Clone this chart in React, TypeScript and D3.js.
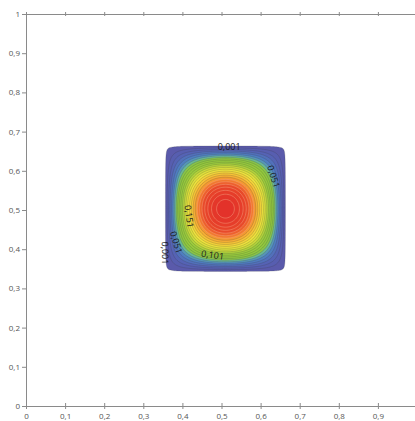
import * as d3 from 'd3';
import React, { useRef, useEffect } from 'react';

// axis ticks
const xTicks = [0, 0.1, 0.2, 0.3, 0.4, 0.5, 0.6, 0.7, 0.8, 0.9];
const yTicks = [0, 0.1, 0.2, 0.3, 0.4, 0.5, 0.6, 0.7, 0.8, 0.9, 1];

// contour levels
const levels = [
  0.001, 0.011, 0.021, 0.031, 0.041, 0.051, 0.061, 0.071, 0.081, 0.091,
  0.101, 0.111, 0.121, 0.131, 0.141, 0.151, 0.161, 0.171, 0.181, 0.191,
  0.201, 0.211, 0.221, 0.231, 0.241, 0.251,
];

// the bump: support box and peak value
const boxX = [0.355, 0.662];
const boxY = [0.342, 0.661];
const peak = 0.258;

// labelled contours: level and direction (deg) from the centre
const labelLevels = [0.001, 0.051, 0.151, 0.051, 0.001, 0.101];
const labelDirs = [86, 34, 191, 214, 216, 255];

// colour ramp, position along 0..1 of the peak
const colorPos = [0, 0.1, 0.2, 0.25, 0.3, 0.42, 0.5, 0.57, 0.65, 0.72, 0.78, 0.84, 1];
const colorStops = ['#5b57a8', '#5563b5', '#4d84c4', '#66b6a0', '#8cc63f', '#9ccc3c', '#d4de3a', '#f0e23c', '#f8c036', '#f59a32', '#ef6a2e', '#e8482a', '#e3302a'];

const W = 415;
const H = 421;
const x0 = 26, x1 = 417, yTop = 14, yBot = 406;
const N = 300;

const fmt = (d: number) => String(d).replace('.', ',');

function field(x: number, y: number) {
  const u = (x - boxX[0]) / (boxX[1] - boxX[0]);
  const v = (y - boxY[0]) / (boxY[1] - boxY[0]);
  if (u <= 0 || u >= 1 || v <= 0 || v >= 1) return 0;
  return peak * Math.sin(Math.PI * u) * Math.sin(Math.PI * v);
}

function ContourChart() {
  const svgRef = useRef<SVGSVGElement>(null);

  useEffect(() => {
    const svg = d3.select(svgRef.current);
    svg.selectAll('*').remove();

    const xScale = d3.scaleLinear().domain([0, 1]).range([x0, x1]);
    const yScale = d3.scaleLinear().domain([0, 1]).range([yBot, yTop]);

    const values = new Array(N * N);
    for (let j = 0; j < N; j++) {
      for (let i = 0; i < N; i++) {
        values[j * N + i] = field(i / (N - 1), j / (N - 1));
      }
    }
    const contours = d3.contours().size([N, N]).thresholds(levels)(values);
    const path = d3.geoPath(
      d3.geoTransform({
        point(px, py) {
          this.stream.point(xScale(px / (N - 1)), yScale(py / (N - 1)));
        },
      })
    );

    const colorScale = d3
      .scaleLinear<string>()
      .domain(colorPos.map((p) => p * peak))
      .range(colorStops)
      .interpolate(d3.interpolateRgb);

    const g = svg.append('g');
    g.selectAll('path.band')
      .data(contours)
      .join('path')
      .attr('class', 'band')
      .attr('d', (d) => path(d as any))
      .attr('fill', (d, i) => {
        const next = i + 1 < levels.length ? levels[i + 1] : peak;
        return colorScale((d.value + next) / 2);
      })
      .attr('stroke', 'none');

    g.selectAll('path.line')
      .data(contours)
      .join('path')
      .attr('class', 'line')
      .attr('d', (d) => path(d as any))
      .attr('fill', 'none')
      .attr('stroke', (d) => (d.value > 0.19 ? '#f5a080' : '#3a3a3a'))
      .attr('stroke-opacity', (d) => (d.value > 0.19 ? 0.8 : 0.35))
      .attr('stroke-width', 0.6);

    // contour labels, found along a ray from the centre
    const cx = (boxX[0] + boxX[1]) / 2;
    const cy = (boxY[0] + boxY[1]) / 2;
    labelLevels.forEach((lv, k) => {
      const a = (labelDirs[k] * Math.PI) / 180;
      let lo = 0, hi = 0.3;
      for (let it = 0; it < 40; it++) {
        const m = (lo + hi) / 2;
        if (field(cx + m * Math.cos(a), cy + m * Math.sin(a)) > lv) lo = m;
        else hi = m;
      }
      const px = cx + lo * Math.cos(a);
      const py = cy + lo * Math.sin(a);
      const e = 1e-4;
      const gx = (field(px + e, py) - field(px - e, py)) / (2 * e);
      const gy = (field(px, py + e) - field(px, py - e)) / (2 * e);
      // tangent in screen space
      let ang = (Math.atan2(gx, gy) * 180) / Math.PI;
      while (ang > 95) ang -= 180;
      while (ang <= -85) ang += 180;
      svg
        .append('text')
        .attr('transform', `translate(${xScale(px)},${yScale(py)}) rotate(${ang})`)
        .attr('text-anchor', 'middle')
        .attr('dy', '0.35em')
        .attr('font-family', 'Open Sans, sans-serif')
        .attr('font-size', 9)
        .attr('fill', '#1a1a1a')
        .text(fmt(lv));
    });

    const axisColor = '#8a8a8a';
    const textColor = '#555';

    const left = svg
      .append('g')
      .attr('transform', `translate(${x0},0)`)
      .call(d3.axisLeft(yScale).tickValues(yTicks).tickFormat((d) => fmt(d as number)).tickSize(4).tickSizeOuter(0));

    const bottom = svg
      .append('g')
      .attr('transform', `translate(0,${yBot})`)
      .call(d3.axisBottom(xScale).tickValues(xTicks).tickFormat((d) => fmt(d as number)).tickSize(3).tickSizeOuter(0));
    bottom.selectAll('.tick line').attr('y1', -3);

    const top = svg
      .append('g')
      .attr('transform', `translate(0,${yTop})`)
      .call(d3.axisTop(xScale).tickValues(xTicks).tickFormat(() => '').tickSize(2).tickSizeOuter(0));
    top.selectAll('.tick line').attr('y1', 2);

    [left, bottom, top].forEach((ax) => {
      ax.select('.domain').attr('stroke', axisColor);
      ax.selectAll('.tick line').attr('stroke', axisColor);
      ax.selectAll('.tick text')
        .attr('fill', textColor)
        .attr('font-family', 'Open Sans, sans-serif')
        .attr('font-size', 8);
    });
    left.selectAll('.tick text').attr('x', -6);
    bottom.selectAll('.tick text').attr('y', 7);
  }, []);

  return (
    <svg
      ref={svgRef}
      width={W}
      height={H}
      style={{ position: 'absolute', left: 0, top: 0, background: '#fff' }}
    />
  );
}

export default function App() {
  return <ContourChart />;
}
